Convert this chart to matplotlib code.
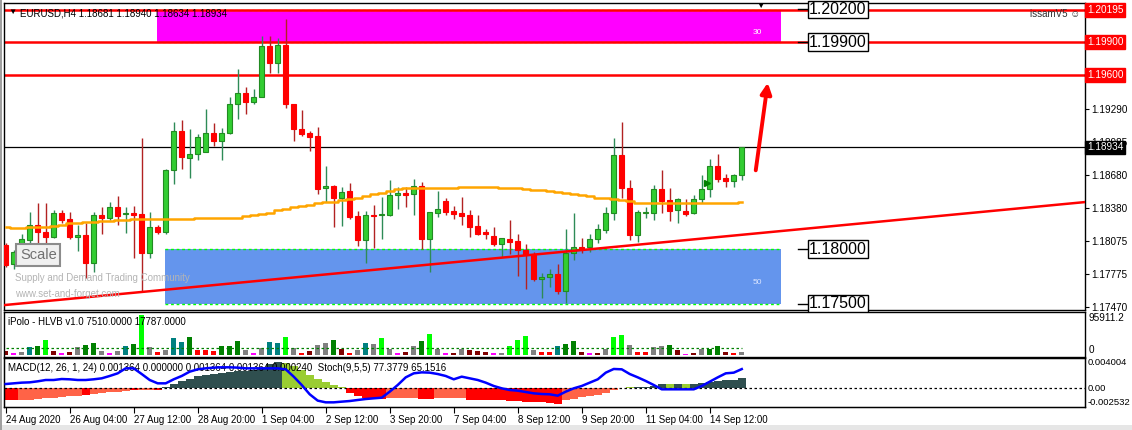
"""EURUSD H4 chart with supply/demand zones, volume and MACD/Stoch panels."""

import matplotlib.pyplot as plt
import numpy as np
from matplotlib.patches import Rectangle

plt.rcParams["font.family"] = ["Liberation Sans", "DejaVu Sans"]

# ---- candles ----
opens = [1.18039, 1.17862, 1.18039, 1.18085, 1.18222, 1.18161, 1.18109, 1.18336, 1.18274, 1.18109,
         1.18131, 1.17871, 1.18314, 1.18284, 1.18385, 1.18320, 1.18333, 1.18323, 1.17962, 1.18201,
         1.18155, 1.18727, 1.19085, 1.18840, 1.18871, 1.18889, 1.19063, 1.18996, 1.19063, 1.19330,
         1.19430, 1.19348, 1.19400, 1.19865, 1.19712, 1.19874, 1.19333, 1.19103, 1.19063, 1.19039,
         1.18559, 1.18580, 1.18467, 1.18531, 1.18305, 1.18085, 1.18314, 1.18311, 1.18314, 1.18501,
         1.18516, 1.18504, 1.18580, 1.18094, 1.18336, 1.18443, 1.18351, 1.18333, 1.18314, 1.18213,
         1.18161, 1.18121, 1.18051, 1.18094, 1.18076, 1.17993, 1.17947, 1.17730, 1.17742, 1.17773,
         1.17620, 1.17969, 1.18018, 1.18018, 1.18091, 1.18177, 1.18329, 1.18862, 1.18559, 1.18131,
         1.18336, 1.18336, 1.18550, 1.18449, 1.18360, 1.18351, 1.18329, 1.18461, 1.18550, 1.18764,
         1.18654, 1.18629, 1.18681]
highs = [1.18054, 1.17993, 1.18140, 1.18345, 1.18421, 1.18421, 1.18360, 1.18360, 1.18345, 1.18222,
         1.18238, 1.18345, 1.18391, 1.18437, 1.18489, 1.18391, 1.18397, 1.19018, 1.18345, 1.18222,
         1.18736, 1.19170, 1.19186, 1.19103, 1.19057, 1.19287, 1.19155, 1.19109, 1.19400, 1.19654,
         1.19492, 1.19467, 1.19956, 1.19956, 1.19935, 1.20110, 1.19333, 1.19278, 1.19085, 1.19125,
         1.18764, 1.18589, 1.18568, 1.18611, 1.18351, 1.18351, 1.18406, 1.18482, 1.18635, 1.18574,
         1.18568, 1.18644, 1.18620, 1.18345, 1.18534, 1.18467, 1.18397, 1.18482, 1.18360, 1.18314,
         1.18186, 1.18207, 1.18103, 1.18268, 1.18140, 1.18048, 1.17978, 1.17785, 1.17819, 1.17865,
         1.18183, 1.18336, 1.18100, 1.18140, 1.18229, 1.18385, 1.19024, 1.19167, 1.18635, 1.18360,
         1.18391, 1.18589, 1.18727, 1.18559, 1.18473, 1.18458, 1.18498, 1.18681, 1.18828, 1.18874,
         1.18687, 1.18690, 1.18940]
lows = [1.17834, 1.17822, 1.18008, 1.18039, 1.18054, 1.18024, 1.18100, 1.18244, 1.18091, 1.17987,
        1.17733, 1.17794, 1.18140, 1.18268, 1.18222, 1.18152, 1.17917, 1.17611, 1.17917, 1.18140,
        1.18140, 1.18596, 1.18733, 1.18657, 1.18819, 1.18889, 1.18950, 1.18819, 1.19057, 1.19195,
        1.19241, 1.19333, 1.19394, 1.19614, 1.19620, 1.19299, 1.18996, 1.19039, 1.18904, 1.18507,
        1.18437, 1.18207, 1.18216, 1.18277, 1.18033, 1.17877, 1.18008, 1.18094, 1.18305, 1.18369,
        1.18391, 1.18314, 1.18002, 1.17794, 1.18299, 1.18314, 1.18277, 1.18222, 1.18115, 1.18131,
        1.18094, 1.18030, 1.17932, 1.17956, 1.17754, 1.17635, 1.17712, 1.17556, 1.17657, 1.17589,
        1.17510, 1.17901, 1.17969, 1.17978, 1.18054, 1.18146, 1.18268, 1.18467, 1.18085, 1.18070,
        1.18290, 1.18268, 1.18336, 1.18262, 1.18244, 1.18308, 1.18320, 1.18421, 1.18482, 1.18620,
        1.18574, 1.18574, 1.18634]
closes = [1.17855, 1.17978, 1.18091, 1.18222, 1.18155, 1.18109, 1.18329, 1.18268, 1.18109, 1.18131,
          1.17871, 1.18314, 1.18284, 1.18385, 1.18308, 1.18333, 1.18311, 1.17962, 1.18201, 1.18155,
          1.18727, 1.19085, 1.18843, 1.18871, 1.19027, 1.19063, 1.18996, 1.19063, 1.19333, 1.19430,
          1.19348, 1.19394, 1.19865, 1.19712, 1.19874, 1.19330, 1.19100, 1.19057, 1.19033, 1.18553,
          1.18580, 1.18467, 1.18528, 1.18299, 1.18085, 1.18314, 1.18308, 1.18323, 1.18498, 1.18516,
          1.18501, 1.18580, 1.18094, 1.18342, 1.18369, 1.18345, 1.18326, 1.18308, 1.18207, 1.18140,
          1.18137, 1.18051, 1.18103, 1.18066, 1.17993, 1.17947, 1.17727, 1.17742, 1.17773, 1.17620,
          1.17969, 1.18018, 1.18005, 1.18091, 1.18183, 1.18329, 1.18862, 1.18559, 1.18131, 1.18339,
          1.18342, 1.18550, 1.18446, 1.18354, 1.18458, 1.18323, 1.18458, 1.18550, 1.18764, 1.18644,
          1.18629, 1.18678, 1.18934]

ma_values = [1.18204, 1.18198, 1.18192, 1.18201, 1.18204, 1.18207, 1.18216, 1.18225, 1.18238, 1.18244,
             1.18247, 1.18253, 1.18256, 1.18262, 1.18268, 1.18271, 1.18274, 1.18277, 1.18277, 1.18277,
             1.18280, 1.18280, 1.18280, 1.18280, 1.18284, 1.18287, 1.18287, 1.18287, 1.18290, 1.18290,
             1.18305, 1.18314, 1.18320, 1.18336, 1.18360, 1.18372, 1.18385, 1.18397, 1.18409, 1.18421,
             1.18430, 1.18437, 1.18449, 1.18458, 1.18467, 1.18492, 1.18504, 1.18519, 1.18537, 1.18550,
             1.18559, 1.18562, 1.18565, 1.18565, 1.18565, 1.18565, 1.18565, 1.18574, 1.18574, 1.18574,
             1.18574, 1.18574, 1.18565, 1.18565, 1.18565, 1.18553, 1.18544, 1.18544, 1.18534, 1.18522,
             1.18513, 1.18507, 1.18498, 1.18489, 1.18473, 1.18467, 1.18458, 1.18452, 1.18446, 1.18427,
             1.18421, 1.18421, 1.18421, 1.18421, 1.18421, 1.18421, 1.18421, 1.18421, 1.18427, 1.18421,
             1.18421, 1.18427, 1.18430]

# ---- iPolo HLVB volume ----
volumes = [9134, 5328, 6851, 19030, 20552, 34254, 9134, 5328, 6851, 18269,
           23597, 28164, 9134, 5328, 9134, 20552, 25881, 91344, 18269, 7612,
           11418, 39582, 29687, 41866, 11418, 11418, 9134, 20552, 20552, 31970,
           11418, 5328, 16746, 29687, 28164, 41866, 16746, 5328, 9134, 22836,
           28164, 34254, 13702, 5328, 11418, 28164, 25881, 39582, 14463, 5328,
           6851, 20552, 32732, 48717, 14463, 5328, 5328, 15224, 12941, 9134,
           6851, 5328, 5328, 20552, 34254, 43388, 11418, 6851, 6851, 20552,
           25881, 31970, 6851, 5328, 5328, 15224, 41866, 46433, 22836, 6851,
           6851, 18269, 20552, 22836, 11418, 2284, 5328, 14463, 15224, 20552,
           6851, 5328, 7510]
volume_codes = list("mpgtdlmpmg" "ddgpgtdlgr" "gttdrrrddd" "gpgttlgrmg" "gdmrgtglgp"
                    "mgdlgpmgmm" "mpglllgrrt" "ddmpmgllgr" "rggdmpmgdd" "mrg")
volume_avg = 17787.0
volume_max = 95911.2

# ---- MACD histogram and Stoch ----
macd_hist = [-0.001645, -0.001645, -0.001645, -0.001556, -0.001468, -0.001379, -0.001290, -0.001201, -0.001112, -0.001023,
             -0.000978, -0.000800, -0.000667, -0.000578, -0.000489, -0.000400, -0.000267, -0.000222, -0.000222, -0.000267,
             0.000133, 0.000489, 0.000889, 0.001245, 0.001556, 0.001734, 0.001868, 0.002001, 0.002090, 0.002224,
             0.002312, 0.002446, 0.002668, 0.003157, 0.003424, 0.003335, 0.002891, 0.002357, 0.001779, 0.001245,
             0.000800, 0.000356, 0.000089, -0.000667, -0.001112, -0.001290, -0.001423, -0.001468, -0.001379, -0.001334,
             -0.001334, -0.001334, -0.001423, -0.001423, -0.001334, -0.001334, -0.001334, -0.001334, -0.001556, -0.001645,
             -0.001645, -0.001645, -0.001645, -0.001690, -0.001734, -0.001823, -0.001868, -0.001912, -0.002001, -0.002135,
             -0.001556, -0.001423, -0.001245, -0.001112, -0.000889, -0.000667, -0.000311, -0.000044, 0.000089, 0.000133,
             0.000133, 0.000311, 0.000578, 0.000578, 0.000578, 0.000578, 0.000578, 0.000712, 0.000845, 0.000934,
             0.001023, 0.001112, 0.001364]
macd_codes = list("rrttttttttrtttttrttr" "ddddddddddddddd" "yyyyyyyy" "rrrrr" "tttt" "rr" "tttt"
                  "rrrrrrrrrrrr" "tttttttt" "ydddd" "y" "d" "y" "ddddddd")
stoch_values = [46.9, 48.3, 49.7, 50.3, 52.4, 55.1, 55.1, 57.1, 56.5, 55.1,
                55.1, 56.5, 58.5, 63.3, 68.7, 78.9, 78.9, 67.3, 55.1, 48.3,
                48.3, 56.5, 63.3, 72.1, 76.9, 78.9, 80.3, 81.0, 81.0, 80.3,
                78.9, 78.9, 78.9, 78.9, 78.9, 76.9, 61.9, 44.9, 25.9, 13.0,
                9.5, 9.5, 10.9, 12.2, 14.3, 16.3, 17.7, 19.0, 31.3, 44.9,
                60.5, 68.7, 70.7, 70.1, 67.3, 63.3, 56.5, 61.9, 58.5, 55.1,
                49.7, 42.9, 38.1, 34.7, 33.3, 30.6, 27.9, 26.5, 25.9, 23.1,
                31.3, 38.1, 42.9, 49.7, 56.5, 70.1, 77.6, 76.9, 67.3, 60.5,
                53.1, 44.9, 36.1, 36.1, 36.1, 36.1, 36.1, 42.9, 51.7, 60.5,
                68.7, 70.1, 77.4]
macd_top, macd_bottom = 0.004004, -0.002532

date_ticks = [0, 8, 16, 24, 32, 40, 48, 56, 64, 72, 80, 88]
date_labels = ["24 Aug 2020", "26 Aug 04:00", "27 Aug 12:00", "28 Aug 20:00", "1 Sep 04:00",
               "2 Sep 12:00", "3 Sep 20:00", "7 Sep 04:00", "8 Sep 12:00", "9 Sep 20:00",
               "11 Sep 04:00", "14 Sep 12:00"]

price_ticks = [1.17470, 1.17775, 1.18075, 1.18380, 1.18680, 1.18985, 1.19290]
level_lines = [1.20195, 1.19900, 1.19600]
bid_price = 1.18934
supply_zone = (18.9, 96.9, 1.19900, 1.20195)
demand_zone = (19.9, 96.9, 1.17500, 1.18000)
zone_labels = [1.20200, 1.19900, 1.18000, 1.17500]
trend_start = (-0.2, 1.17488)
trend_end = (134.9, 1.18433)
arrow_start = (93.7, 1.18699)
arrow_end = (95.3, 1.19553)
signal_arrow = (87.6, 1.18610)

W, H = 1132, 430
X_LEFT, X_RIGHT = -0.21, 134.9
AXIS_FS = 7.2


def px_rect(x0, y0, x1, y1):
    return [x0 / W, 1 - y1 / H, (x1 - x0) / W, (y1 - y0) / H]


def main_px(x, y):
    """Pixel position inside the main panel -> axes fraction."""
    return (x - 4) / 1081, (310 - y) / 307


fig = plt.figure(figsize=(W / 100, H / 100), dpi=100, facecolor="white")
ax = fig.add_axes(px_rect(4, 3, 1085, 310))
ax_vol = fig.add_axes(px_rect(4, 312, 1085, 357))
ax_macd = fig.add_axes(px_rect(4, 358, 1085, 407))

fig.patches.append(Rectangle((0, 0), 1, 5 / H, transform=fig.transFigure,
                             facecolor="#E6E6E6", edgecolor="none"))
fig.patches.append(Rectangle((0, 0), 2 / W, 1, transform=fig.transFigure,
                             facecolor="#A0A0A0", edgecolor="none"))

for a in (ax, ax_vol, ax_macd):
    a.set_xlim(X_LEFT, X_RIGHT)
    for s in a.spines.values():
        s.set_linewidth(1.0)
        s.set_color("black")
    a.yaxis.tick_right()
    a.tick_params(axis="y", labelsize=AXIS_FS, length=3, pad=1.5, direction="out")

o = np.array(opens)
h = np.array(highs)
l = np.array(lows)
c = np.array(closes)
x = np.arange(len(o))
up = c >= o
dn = ~up

# zones
for (x0, x1, lo, hi), face, border in [(supply_zone, "#FF00FF", "#FFD700"),
                                       (demand_zone, "#6495ED", "#00FF00")]:
    ax.add_patch(Rectangle((x0, lo), x1 - x0, hi - lo, facecolor=face, edgecolor="none", zorder=0))
    ax.hlines([lo, hi], x0, x1, colors=border, linestyles=(0, (2, 2)), linewidth=1.0, zorder=1)

# horizontal levels
ax.hlines(level_lines, X_LEFT, X_RIGHT, colors="red", linewidth=1.8, zorder=2)
ax.axhline(bid_price, color="black", linewidth=0.9, zorder=2)

# candles
body_w = 0.62
ax.vlines(x[up], l[up], h[up], color="#2E8B57", linewidth=1.0, zorder=3)
ax.vlines(x[dn], l[dn], h[dn], color="#B22222", linewidth=1.0, zorder=3)
body = np.maximum(np.abs(c - o), 0.00003)
ax.bar(x[up], body[up], bottom=np.minimum(o, c)[up], width=body_w,
       color="#32CD32", edgecolor="#228B22", linewidth=0.8, zorder=4)
ax.bar(x[dn], body[dn], bottom=np.minimum(o, c)[dn], width=body_w,
       color="#FF0000", edgecolor="#FF0000", linewidth=0.8, zorder=4)

ax.plot(x, ma_values, color="#FFA500", linewidth=1.8, drawstyle="steps-mid", zorder=5)
ax.plot([trend_start[0], trend_end[0]], [trend_start[1], trend_end[1]],
        color="red", linewidth=1.8, zorder=5)

ax.annotate("", xy=arrow_end, xytext=arrow_start,
            arrowprops=dict(arrowstyle="-|>", color="red", lw=2.8, mutation_scale=16), zorder=6)
ax.plot(*signal_arrow, marker=">", color="#008000", markersize=5, zorder=6)

# zone level boxes
for lvl in zone_labels:
    ax.plot([99.0, 100.3], [lvl, lvl], color="black", linewidth=1.0, zorder=6)
    ax.text(100.4, lvl, f"{lvl:.5f}", fontsize=11.5, color="black", ha="left", va="center",
            zorder=7, bbox=dict(boxstyle="square,pad=0.08", facecolor="white",
                                edgecolor="black", linewidth=1.0))

ax.set_ylim(1.17443, 1.20259)
ax.set_yticks(price_ticks)
ax.set_yticklabels([f"{v:.5f}" for v in price_ticks])
ax.set_xticks([])

ytr = ax.get_yaxis_transform()
for lvl in level_lines:
    ax.text(1.002, lvl, f"{lvl:.5f}", transform=ytr, fontsize=AXIS_FS, color="white",
            ha="left", va="center", clip_on=False,
            bbox=dict(boxstyle="square,pad=0.18", facecolor="red", edgecolor="red"))
ax.text(1.002, bid_price, f"{bid_price:.5f}", transform=ytr, fontsize=AXIS_FS, color="white",
        ha="left", va="center", clip_on=False, zorder=9,
        bbox=dict(boxstyle="square,pad=0.18", facecolor="black", edgecolor="black"))

# overlay texts
ax.text(*main_px(8, 12), "▼", transform=ax.transAxes, fontsize=6, va="center", ha="left", zorder=8)
ax.text(*main_px(20, 13), "EURUSD,H4 1.18681 1.18940 1.18634 1.18934", transform=ax.transAxes,
        fontsize=7, va="center", ha="left", zorder=8)
ax.text(*main_px(760, 6), "▼", transform=ax.transAxes, fontsize=6, va="center", ha="center", zorder=8)
ax.text(*main_px(757, 32), "30", transform=ax.transAxes, fontsize=6, color="white",
        va="center", ha="center", zorder=8)
ax.text(*main_px(757, 283), "50", transform=ax.transAxes, fontsize=6, color="#DCE6FF",
        va="center", ha="center", zorder=8)
ax.text(*main_px(1055, 14), "issamV5 ☺", transform=ax.transAxes, fontsize=7, color="#303030",
        va="center", ha="center", zorder=8)
ax.text(*main_px(20, 255), "Scale", transform=ax.transAxes, fontsize=10.5, color="#707070",
        va="center", ha="left", zorder=8,
        bbox=dict(boxstyle="square,pad=0.25", facecolor="#F0F0F0", edgecolor="#8C8C8C", linewidth=1.5))
ax.text(*main_px(15, 278), "Supply and Demand Trading Community", transform=ax.transAxes,
        fontsize=7, color="#B4B4B4", va="center", ha="left", zorder=8)
ax.text(*main_px(15, 294), "www.set-and-forget.com", transform=ax.transAxes,
        fontsize=7, color="#B4B4B4", va="center", ha="left", zorder=8)

# volume panel
vol_palette = {"m": "#800000", "p": "#FF00FF", "g": "#808080", "t": "#008080",
               "d": "#008000", "l": "#00FF00", "r": "#FF0000"}
ax_vol.bar(x, volumes, width=body_w, color=[vol_palette[k] for k in volume_codes], zorder=2)
ax_vol.hlines(volume_avg, x[0], x[-1], colors="#008000", linestyles=(0, (2, 2)), linewidth=0.9, zorder=3)
ax_vol.set_ylim(-3500, 98200)
ax_vol.set_xticks([])
ax_vol.set_yticks([])
vtr = ax_vol.get_yaxis_transform()
ax_vol.text(1.003, volume_max, f"{volume_max:.1f}", transform=vtr, fontsize=AXIS_FS, va="top", ha="left")
ax_vol.text(1.003, 0, "0", transform=vtr, fontsize=AXIS_FS, va="bottom", ha="left")
ax_vol.text(0.004, 0.78, "iPolo - HLVB v1.0 7510.0000 17787.0000", transform=ax_vol.transAxes,
            fontsize=7, va="center", ha="left")

# MACD / Stoch panel
macd_palette = {"d": "#2F4F4F", "y": "#9ACD32", "r": "#FF0000", "t": "#FF6347"}
ax_macd.bar(x, macd_hist, width=1.0, color=[macd_palette[k] for k in macd_codes], zorder=2)
ax_macd.axhline(0, color="black", linestyle=(0, (2, 2)), linewidth=0.9, zorder=3)
ax_macd.set_ylim(macd_bottom, macd_top)
ax_macd.set_yticks([])
mtr = ax_macd.get_yaxis_transform()
ax_macd.text(1.002, macd_top, f"{macd_top:.6f}", transform=mtr, fontsize=6.8, va="top", ha="left")
ax_macd.text(1.002, 0, "0.00", transform=mtr, fontsize=6.8, va="center", ha="left")
ax_macd.text(1.002, macd_bottom, f"{macd_bottom:.6f}", transform=mtr, fontsize=6.8, va="bottom", ha="left")
ax_macd.text(0.004, 0.8, "MACD(12, 26, 1, 24) 0.001364 0.000000 0.001364 0.001364 0.000240  "
             "Stoch(9,5,5) 77.3779 65.1516", transform=ax_macd.transAxes,
             fontsize=7, va="center", ha="left", zorder=6)

ax_st = ax_macd.twinx()
ax_st.set_xlim(X_LEFT, X_RIGHT)
ax_st.set_ylim(0, 100)
ax_st.plot(x, stoch_values, color="#0000FF", linewidth=1.8, zorder=5)
ax_st.set_yticks([])
ax_st.set_xticks([])

ax_macd.set_xticks(date_ticks)
ax_macd.set_xticklabels(date_labels, ha="left")
ax_macd.tick_params(axis="x", labelsize=7, length=4, pad=2, direction="out")

fig.savefig("out.png", dpi=100)
